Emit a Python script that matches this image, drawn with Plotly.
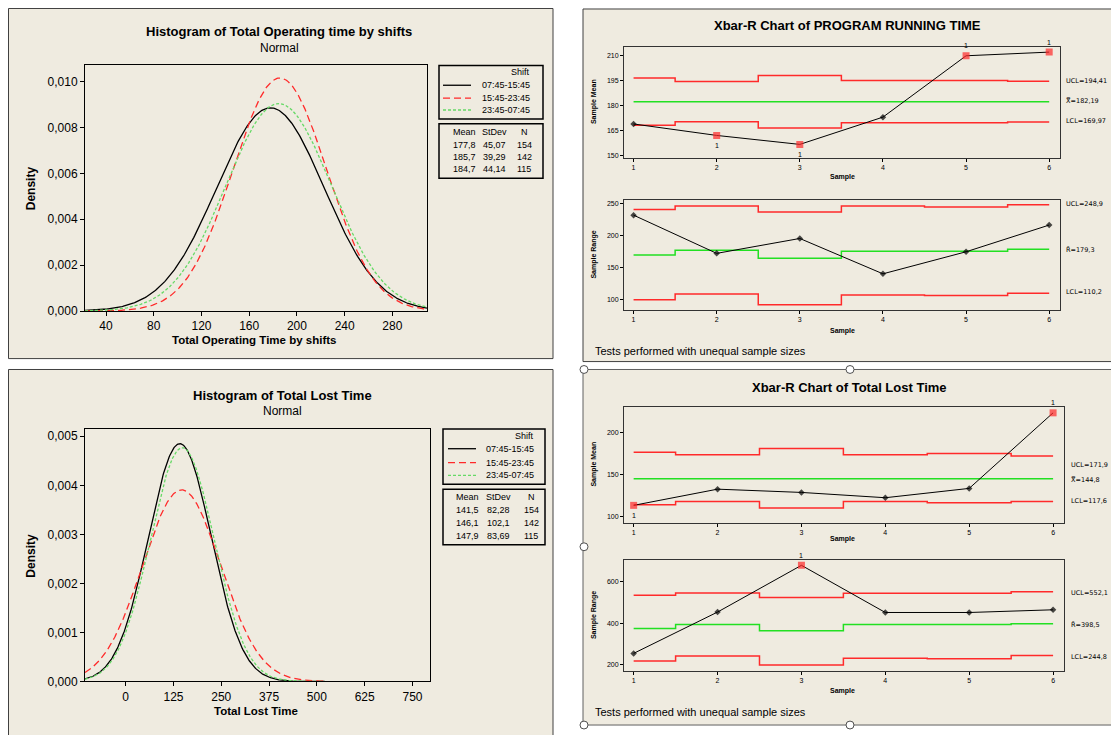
import numpy as np
import plotly.graph_objects as go

# The page adds an 8px body margin, so the figure is drawn 8px smaller and all
# reference pixel positions are shifted by that offset.
W, H = 1119, 735
OFF = 8
FW, FH = W - OFF, H - OFF

# ---------------- data ----------------
shifts = ["07:45-15:45", "15:45-23:45", "23:45-07:45"]
op_mean = [177.8, 185.7, 184.7]
op_sd = [45.07, 39.29, 44.14]
op_n = [154, 142, 115]
lost_mean = [141.5, 146.1, 147.9]
lost_sd = [82.28, 102.1, 83.69]
lost_n = [154, 142, 115]

op_ticks = [40, 80, 120, 160, 200, 240, 280]
op_yticks = [0, 0.002, 0.004, 0.006, 0.008, 0.010]
lost_ticks = [0, 125, 250, 375, 500, 625, 750]
lost_yticks = [0, 0.001, 0.002, 0.003, 0.004, 0.005]

samples = [1, 2, 3, 4, 5, 6]

prt_mean = [168.8, 161.9, 156.5, 172.9, 209.8, 212.0]
prt_mean_ucl = [196.4, 194.3, 198.0, 194.9, 194.9, 194.41]
prt_mean_cl = [182.19] * 6
prt_mean_lcl = [168.0, 170.1, 166.4, 169.5, 169.5, 169.97]
prt_mean_flag = [2, 3, 5, 6]
prt_mean_flag_up = [5, 6]
prt_mean_labels = ["UCL=194,41", "X̿=182,19", "LCL=169,97"]
prt_mean_yticks = [150, 165, 180, 195, 210]

prt_range = [232.5, 172.7, 196.0, 140.7, 175.2, 217.0]
prt_range_ucl = [241.3, 247.0, 237.6, 247.0, 245.4, 248.9]
prt_range_cl = [170.0, 177.6, 164.9, 176.2, 176.2, 179.3]
prt_range_lcl = [100.0, 109.3, 92.2, 107.7, 106.7, 110.2]
prt_range_flag = []
prt_range_labels = ["UCL=248,9", "R̄=179,3", "LCL=110,2"]
prt_range_yticks = [100, 150, 200, 250]

lost_xbar = [113.0, 132.3, 128.4, 122.1, 133.2, 223.2]
lost_xbar_ucl = [176.4, 173.2, 180.7, 173.2, 174.7, 171.9]
lost_xbar_cl = [144.8] * 6
lost_xbar_lcl = [113.8, 117.6, 110.0, 117.6, 116.0, 117.6]
lost_xbar_flag = [1, 6]
lost_xbar_flag_up = [6]
lost_xbar_labels = ["UCL=171,9", "X̿=144,8", "LCL=117,6"]
lost_xbar_yticks = [100, 150, 200]

lost_rng = [255.5, 454.0, 678.7, 452.0, 452.0, 465.0]
lost_rng_ucl = [535, 546, 524, 544, 544, 552.1]
lost_rng_cl = [375, 394, 364.5, 394, 394, 398.5]
lost_rng_lcl = [219, 242.6, 200, 231.6, 230, 244.8]
lost_rng_flag = [3]
lost_rng_flag_up = [3]
lost_rng_labels = ["UCL=552,1", "R̄=398,5", "LCL=244,8"]
lost_rng_yticks = [200, 400, 600]

# ---------------- helpers ----------------
BEIGE = "#EFEBE0"
RED = "#FF2A2A"
GREEN = "#22E022"
LGREEN = "#66D966"
FONT = "Liberation Sans"


def fx(px):
    return (px - OFF) / FW


def fy(py):
    return 1 - (py - OFF) / FH


def comma(v, fmt):
    return format(v, fmt).replace(".", ",")


def pdf(x, m, s):
    return np.exp(-0.5 * ((x - m) / s) ** 2) / (s * np.sqrt(2 * np.pi))


fig = go.Figure()
annotations = []
shapes = []


def ann(px, py, text, size=11, bold=False, xanchor="center", yanchor="middle",
        angle=0, family=FONT, color="black"):
    if bold:
        text = "<b>" + text + "</b>"
    annotations.append(dict(x=fx(px), y=fy(py), xref="paper", yref="paper",
                            text=text, showarrow=False, xanchor=xanchor,
                            yanchor=yanchor, textangle=angle,
                            font=dict(size=size, family=family, color=color)))


def rect(x0, y0, x1, y1, fill=None, color="#404040", width=1, layer="below"):
    shapes.append(dict(type="rect", xref="paper", yref="paper",
                       x0=fx(x0), x1=fx(x1), y0=fy(y0), y1=fy(y1),
                       fillcolor=fill if fill else "rgba(0,0,0,0)",
                       line=dict(color=color, width=width), layer=layer))


# panels
rect(8.5, 8.5, 553, 362, fill=BEIGE)
rect(8.5, 373, 553, 745, fill=BEIGE)
rect(583, 9, 1117, 365, fill=BEIGE)
rect(583, 373, 1117, 732, fill=BEIGE, color="#606060")

styles = [dict(color="black", dash="solid"),
          dict(color=RED, dash="7px,4px"),
          dict(color=LGREEN, dash="3px,2px")]

# ---------------- histogram 1 ----------------
xr1 = [22.4, 309]
xs = np.linspace(xr1[0], xr1[1], 400)
for i in range(3):
    fig.add_trace(go.Scatter(x=xs, y=pdf(xs, op_mean[i], op_sd[i]), mode="lines",
                             line=dict(width=1.3, **styles[i]), xaxis="x", yaxis="y",
                             showlegend=False, hoverinfo="skip"))

# ---------------- histogram 2 ----------------
xr2 = [-106.4, 795.8]
xs2 = np.linspace(xr2[0], 520, 400)
for i in range(3):
    fig.add_trace(go.Scatter(x=xs2, y=pdf(xs2, lost_mean[i], lost_sd[i]), mode="lines",
                             line=dict(width=1.3, **styles[i]), xaxis="x2", yaxis="y2",
                             showlegend=False, hoverinfo="skip"))


def control(ax, vals, ucl, cl, lcl, flags, flags_up):
    xa, ya = "x" + ax, "y" + ax
    for lim, col in ((ucl, RED), (cl, GREEN), (lcl, RED)):
        fig.add_trace(go.Scatter(x=samples, y=lim, mode="lines", line_shape="hvh",
                                 line=dict(color=col, width=1.5), xaxis=xa, yaxis=ya,
                                 showlegend=False, hoverinfo="skip"))
    cols = [RED if s in flags else "black" for s in samples]
    syms = ["square" if s in flags else "diamond" for s in samples]
    sizes = [7 if s in flags else 5 for s in samples]
    fig.add_trace(go.Scatter(x=samples, y=vals, mode="lines+markers",
                             line=dict(color="black", width=1),
                             marker=dict(color=cols, symbol=syms, size=sizes, line=dict(width=0)),
                             xaxis=xa, yaxis=ya, showlegend=False, hoverinfo="skip"))
    for s in flags:
        up = s in flags_up
        annotations.append(dict(x=s, y=vals[s - 1], xref=xa, yref=ya, text="1",
                                showarrow=False, yshift=10 if up else -10,
                                font=dict(size=7, family=FONT, color="black")))


control("3", prt_mean, prt_mean_ucl, prt_mean_cl, prt_mean_lcl, prt_mean_flag, prt_mean_flag_up)
control("4", prt_range, prt_range_ucl, prt_range_cl, prt_range_lcl, prt_range_flag, [])
control("5", lost_xbar, lost_xbar_ucl, lost_xbar_cl, lost_xbar_lcl, lost_xbar_flag, lost_xbar_flag_up)
control("6", lost_rng, lost_rng_ucl, lost_rng_cl, lost_rng_lcl, lost_rng_flag, lost_rng_flag_up)

# ---------------- axes ----------------
base = dict(showline=True, mirror=True, linecolor="black", linewidth=1, showgrid=False,
            zeroline=False, ticks="outside", ticklen=4, tickcolor="black", fixedrange=True)
hfont = dict(size=12, family=FONT, color="black")
cfont = dict(size=7, family=FONT, color="black")

layout_axes = dict(
    xaxis=dict(base, domain=[fx(85), fx(427)], anchor="y", range=xr1, tickvals=op_ticks,
               tickfont=hfont),
    yaxis=dict(base, domain=[fy(314), fy(66)], anchor="x", range=[0, 0.0107],
               tickvals=op_yticks, tickformat=".3f", tickfont=hfont),
    xaxis2=dict(base, domain=[fx(85), fx(430)], anchor="y2", range=xr2, tickvals=lost_ticks,
                tickfont=hfont),
    yaxis2=dict(base, domain=[fy(688), fy(433)], anchor="x2", range=[0, 0.00515],
                tickvals=lost_yticks, tickformat=".3f", tickfont=hfont),
)
cbase = dict(base, linecolor="#333333", ticklen=3, tickfont=cfont)
ctrl = [("3", 624, 1060, 47, 159, [148.6, 215.3], prt_mean_yticks),
        ("4", 624, 1060, 202, 313, [84, 256], prt_range_yticks),
        ("5", 624, 1064, 411, 528, [92, 230], lost_xbar_yticks),
        ("6", 624, 1064, 565, 677, [173, 706], lost_rng_yticks)]
for ax, x0, x1, y0, y1, yr, yt in ctrl:
    layout_axes["xaxis" + ax] = dict(cbase, domain=[fx(x0), fx(x1)], anchor="y" + ax,
                                     range=[0.885, 6.13], tickvals=samples)
    layout_axes["yaxis" + ax] = dict(cbase, domain=[fy(y1), fy(y0)], anchor="x" + ax,
                                     range=yr, tickvals=yt)

# ---------------- texts ----------------
ann(279, 32, "Histogram of Total Operating time by shifts", 13, True)
ann(279, 48, "Normal", 12)
ann(31, 190, "Density", 12, True, angle=-90)
ann(254, 343, "Total Operating Time by shifts", 11.5, True)

ann(282, 399, "Histogram of Total Lost Time", 13, True)
ann(282, 415, "Normal", 12)
ann(31, 561, "Density", 12, True, angle=-90)
ann(256, 718, "Total Lost Time", 11.5, True)

ann(847, 26, "Xbar-R Chart of PROGRAM RUNNING TIME", 13, True)
ann(849, 391, "Xbar-R Chart of Total Lost Time", 13, True)

ann(594, 103, "Sample Mean", 7, True, angle=-90)
ann(842, 179, "Sample", 7, True)
ann(594, 257, "Sample Range", 7, True, angle=-90)
ann(842, 334, "Sample", 7, True)
ann(594, 469, "Sample Mean", 7, True, angle=-90)
ann(842, 544, "Sample", 7, True)
ann(594, 621, "Sample Range", 7, True, angle=-90)
ann(842, 698, "Sample", 7, True)

for labels, ys, xl in ((prt_mean_labels, (82, 102, 122), 1064),
                       (prt_range_labels, (206, 252, 295), 1064),
                       (lost_xbar_labels, (469, 485, 506), 1069),
                       (lost_rng_labels, (599, 631, 663), 1069)):
    for t, yy in zip(labels, ys):
        ann(xl, yy, t, 6.5, False, xanchor="left", family="DejaVu Sans")

ann(593, 354, "Tests performed with unequal sample sizes", 11, xanchor="left")
ann(593, 719, "Tests performed with unequal sample sizes", 11, xanchor="left")


# ---------------- legends (histograms) ----------------
def legend(bx0, bx1, by0, by1, sy0, sy1, head_y, line_ys, stat_head_y, stat_ys,
           lx0, lx1, txt_r, col_mean, col_sd, col_n, means, sds, ns, sdfmt):
    rect(bx0, by0, bx1, by1, color="black", width=1.5, layer="above")
    rect(bx0, sy0, bx1, sy1, color="black", width=1.5, layer="above")
    ann(txt_r, head_y, "Shift", 9, xanchor="right")
    for i in range(3):
        shapes.append(dict(type="line", xref="paper", yref="paper",
                           x0=fx(lx0), x1=fx(lx1), y0=fy(line_ys[i]), y1=fy(line_ys[i]),
                           line=dict(width=1.3, color=styles[i]["color"], dash=styles[i]["dash"])))
        ann(txt_r, line_ys[i], shifts[i], 9, xanchor="right")
    ann(col_mean, stat_head_y, "Mean", 9)
    ann(col_sd, stat_head_y, "StDev", 9)
    ann(col_n, stat_head_y, "N", 9)
    for i in range(3):
        ann(col_mean, stat_ys[i], comma(means[i], ".1f"), 9)
        ann(col_sd, stat_ys[i], comma(sds[i], sdfmt[i]), 9)
        ann(col_n, stat_ys[i], str(ns[i]), 9)


legend(439, 543, 66, 120, 125, 180, 73, (86, 99, 111), 133, (146, 158, 171),
       443, 471, 532, 464, 494, 524, op_mean, op_sd, op_n, [".2f", ".2f", ".2f"])
legend(443, 545, 433, 489, 494, 550, 440, (453, 467, 480), 502, (515, 528, 541),
       448, 476, 536, 468, 498, 531, lost_mean, lost_sd, lost_n, [".2f", ".1f", ".2f"])

# selection handles on bottom-right panel
for hx, hy in ((584, 373), (850, 373), (1117, 373), (584, 552), (1117, 552),
               (584, 732), (850, 732), (1117, 732)):
    shapes.append(dict(type="circle", xref="paper", yref="paper",
                       x0=fx(hx - 4), x1=fx(hx + 4), y0=fy(hy + 4), y1=fy(hy - 4),
                       fillcolor="white", line=dict(color="#505050", width=1), layer="above"))

fig.update_layout(
    width=FW, height=FH, margin=dict(l=0, r=0, t=0, b=0),
    paper_bgcolor="white", plot_bgcolor="white",
    separators=",.", showlegend=False,
    font=dict(family=FONT, color="black"),
    annotations=annotations, shapes=shapes,
    **layout_axes,
)

fig.write_html("out.html")
